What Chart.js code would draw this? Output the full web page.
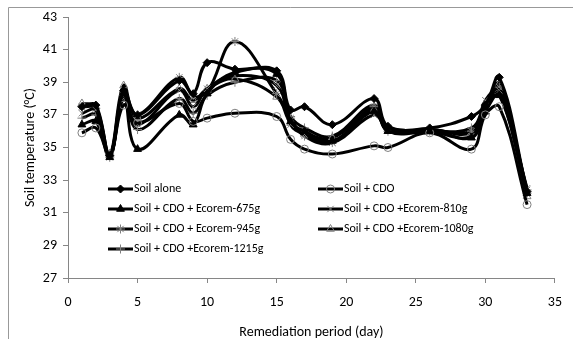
<!DOCTYPE html>
<html>
<head>
<meta charset="utf-8">
<script src="https://cdn.jsdelivr.net/npm/chart.js@4"></script>
<style>
  body { margin: 0; background: #fff; }
  canvas { display: block; }
</style>
</head>
<body>
<canvas id="tempChart" width="573" height="339"></canvas>
<script>
// sampling days (x axis)
const days = [1, 2, 3, 4, 5, 8, 9, 10, 12, 15, 16, 17, 19, 22, 23, 26, 29, 30, 31, 33];

// soil temperature per treatment
const soilAlone  = [37.5, 37.6, 34.5, 38.5, 37.0, 39.1, 38.3, 40.2, 39.8, 39.7, 37.3, 37.5, 36.4, 38.0, 36.3, 36.2, 36.9, 37.6, 39.3, 32.3];
const soilCdo    = [35.9, 36.2, 34.6, 37.6, 36.5, 37.7, 36.6, 36.8, 37.1, 36.9, 35.5, 34.9, 34.6, 35.1, 35.0, 35.9, 34.9, 37.0, 37.5, 31.5];
const ecorem675  = [36.4, 36.6, 34.4, 38.3, 34.9, 37.0, 36.4, 38.3, 39.6, 39.5, 36.6, 36.0, 35.4, 37.2, 36.0, 36.1, 35.6, 37.2, 38.2, 32.2];
const ecorem810  = [37.1, 37.3, 34.5, 38.0, 36.4, 38.5, 37.5, 38.6, 39.4, 38.8, 36.4, 35.8, 35.3, 37.0, 36.2, 36.0, 35.7, 37.9, 38.5, 32.5];
const ecorem945  = [37.5, 37.4, 34.4, 38.2, 37.0, 39.3, 38.2, 38.4, 41.5, 38.3, 36.8, 35.7, 35.3, 37.5, 36.1, 36.1, 36.0, 37.5, 38.7, 32.4];
const ecorem1080 = [37.7, 37.5, 34.6, 38.8, 36.8, 38.6, 37.9, 38.6, 39.2, 38.1, 36.5, 35.9, 35.6, 37.3, 36.0, 36.1, 35.9, 37.4, 38.9, 32.0];
const ecorem1215 = [36.8, 37.0, 34.5, 38.4, 36.1, 38.0, 37.1, 38.2, 39.0, 39.1, 36.9, 36.2, 35.7, 37.6, 36.0, 36.0, 36.2, 37.6, 38.3, 32.2];

const seriesLabels = [
    "Soil alone",
    "Soil + CDO",
    "Soil + CDO + Ecorem-675g",
    "Soil + CDO +Ecorem-810g",
    "Soil + CDO + Ecorem-945g",
    "Soil + CDO +Ecorem-1080g",
    "Soil + CDO +Ecorem-1215g"
];

const FONT = "Carlito, 'Liberation Sans Narrow', 'DejaVu Sans Condensed', 'Open Sans', sans-serif";
const GREY = "#7f7f7f";
const AXIS = "#868686";

function makeSet(label, values, style, markColor, fill, radius) {
    return {
        label: label,
        data: days.map((d, i) => ({ x: d, y: values[i] })),
        borderColor: "#000",
        borderWidth: 3,
        tension: 0.4,
        pointStyle: style,
        pointRadius: radius,
        pointBorderColor: markColor,
        pointBackgroundColor: fill,
        pointBorderWidth: 1
    };
}

const datasets = [
    makeSet(seriesLabels[0], soilAlone, "rectRot", "#000", "#000", 4),
    makeSet(seriesLabels[1], soilCdo, "circle", GREY, "rgba(0,0,0,0)", 4),
    makeSet(seriesLabels[2], ecorem675, "triangle", "#000", "#000", 4.5),
    makeSet(seriesLabels[3], ecorem810, "crossRot", GREY, "rgba(0,0,0,0)", 4.5),
    makeSet(seriesLabels[4], ecorem945, "star", GREY, "rgba(0,0,0,0)", 4.5),
    makeSet(seriesLabels[5], ecorem1080, "triangle", GREY, "rgba(0,0,0,0)", 4.5),
    makeSet(seriesLabels[6], ecorem1215, "cross", GREY, "rgba(0,0,0,0)", 4.5)
];

// outer frame like the original figure (left and top edges only are visible)
const framePlugin = {
    id: "frame",
    beforeDraw(chart) {
        const ctx = chart.ctx;
        ctx.save();
        ctx.strokeStyle = "#999";
        ctx.lineWidth = 1;
        ctx.beginPath();
        ctx.moveTo(8.5, 339);
        ctx.lineTo(8.5, 7.5);
        ctx.lineTo(573, 7.5);
        ctx.stroke();
        ctx.restore();
    }
};

// two column legend inside the plot
const legendPlugin = {
    id: "insideLegend",
    afterDraw(chart) {
        const ctx = chart.ctx;
        const colX = [108, 318];
        const rowY = [189, 209, 229, 249];
        ctx.save();
        ctx.font = "12px " + FONT;
        ctx.textBaseline = "middle";
        chart.data.datasets.forEach((ds, i) => {
            const x = colX[i % 2];
            const y = rowY[Math.floor(i / 2)];
            ctx.strokeStyle = "#000";
            ctx.lineWidth = 3;
            ctx.beginPath();
            ctx.moveTo(x, y);
            ctx.lineTo(x + 25, y);
            ctx.stroke();
            // marker with the dataset's own colours
            ctx.strokeStyle = ds.pointBorderColor;
            ctx.fillStyle = ds.pointBackgroundColor;
            ctx.lineWidth = 1;
            Chart.helpers.drawPoint(ctx, {
                pointStyle: ds.pointStyle,
                radius: ds.pointRadius,
                borderWidth: 1,
                rotation: 0
            }, x + 12.5, y);
            ctx.fillStyle = "#000";
            ctx.fillText(ds.label, x + 26, y);
        });
        ctx.restore();
    }
};

new Chart(document.getElementById("tempChart"), {
    type: "line",
    data: { datasets: datasets },
    plugins: [framePlugin, legendPlugin],
    options: {
        responsive: false,
        animation: false,
        layout: { padding: { left: 0, top: 17, right: 13, bottom: 0 } },
        plugins: {
            legend: { display: false },
            tooltip: { enabled: false }
        },
        scales: {
            x: {
                type: "linear",
                min: 0,
                max: 35,
                ticks: { stepSize: 5, color: "#000", padding: 11, font: { family: FONT, size: 14 } },
                grid: { drawOnChartArea: false, drawTicks: true, tickLength: 5, color: AXIS },
                border: { color: AXIS },
                title: {
                    display: true,
                    text: "Remediation period (day)",
                    color: "#000",
                    font: { family: FONT, size: 14, lineHeight: 1 },
                    padding: { top: 0, bottom: 0 }
                },
                afterFit(scale) { scale.height = 61; }
            },
            y: {
                min: 27,
                max: 43,
                ticks: { stepSize: 2, color: "#000", padding: 6, font: { family: FONT, size: 14 } },
                grid: { drawOnChartArea: false, drawTicks: true, tickLength: 5, color: AXIS },
                border: { color: AXIS },
                title: {
                    display: true,
                    text: "Soil temperature (°C)",
                    color: "#000",
                    font: { family: FONT, size: 14, lineHeight: 1.2 },
                    padding: { top: 22, bottom: 0 }
                },
                afterFit(scale) { scale.width = 68; }
            }
        }
    }
});
</script>
</body>
</html>
